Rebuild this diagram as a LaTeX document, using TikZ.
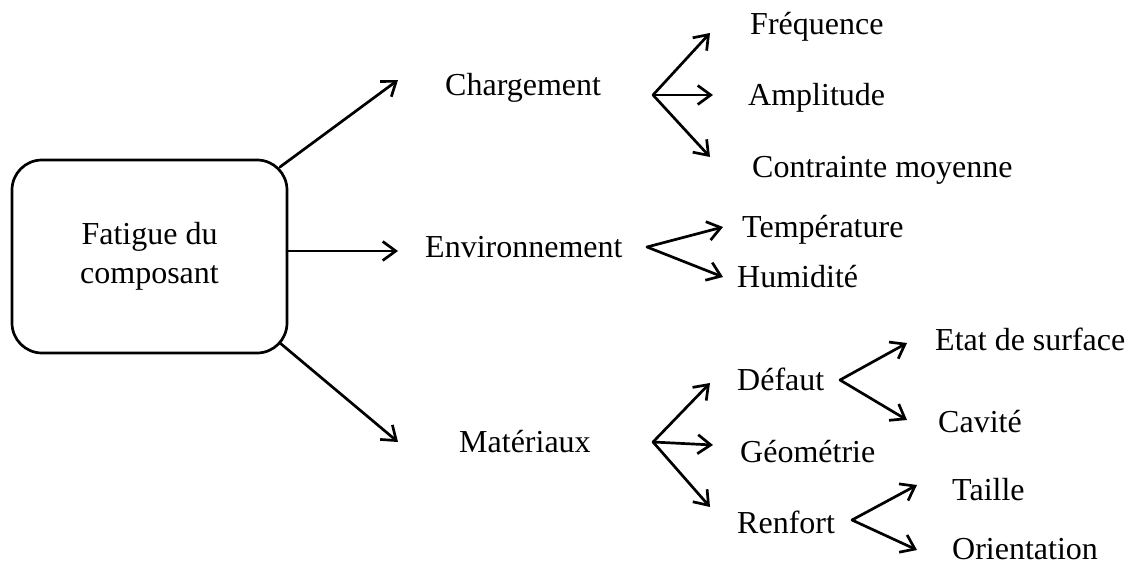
\documentclass[tikz,border=0pt]{standalone}
\usepackage{fontspec}
\setmainfont{Liberation Serif}
\usetikzlibrary{arrows.meta}
\begin{document}
\begin{tikzpicture}[x=1pt,y=-1pt,
  lbl/.style={anchor=base west,inner sep=0pt,font=\fontsize{32}{38}\selectfont},
  arr/.style={line width=2.7pt,line cap=round,-{Straight Barb[length=13pt,width=19pt,line width=2.7pt]}},
  mainbox/.style={draw,line width=2.7pt,rounded corners=30pt,minimum width=275pt,minimum height=193pt,align=center,font=\fontsize{32}{39}\selectfont,inner sep=0pt}]
\useasboundingbox (0,0) rectangle (1132,567);
\node[mainbox] (box) at (149.5,256.5) {Fatigue du\\composant};
% labels
\node[lbl] (charg) at (445,96) {Chargement};
\node[lbl] (env) at (425,257) {Environnement};
\node[lbl] (mat) at (459,452) {Matériaux};
\node[lbl] (freq) at (750,35) {Fréquence};
\node[lbl] (ampl) at (748,106) {Amplitude};
\node[lbl] (contr) at (752,177) {Contrainte moyenne};
\node[lbl] (temp) at (742,237) {Température};
\node[lbl] (hum) at (737,287) {Humidité};
\node[lbl] (def) at (737,390) {Défaut};
\node[lbl] (geo) at (740,462) {Géométrie};
\node[lbl] (renf) at (737,533) {Renfort};
\node[lbl] (etat) at (935,350) {Etat de surface};
\node[lbl] (cav) at (938,432) {Cavité};
\node[lbl] (tail) at (952,500) {Taille};
\node[lbl] (orie) at (952,559) {Orientation};
% connector points
\coordinate (b1) at (280,167);
\coordinate (b2) at (287,251);
\coordinate (b3) at (280,343);
\coordinate (e1) at (398,80);
\coordinate (e2) at (398,251);
\coordinate (e3) at (398,442);
\coordinate (fc) at (653,95);
\coordinate (fc1) at (710,33);
\coordinate (fc2) at (713,95);
\coordinate (fc3) at (710,157);
\coordinate (fe) at (647,247);
\coordinate (fe1) at (723,227);
\coordinate (fe2) at (723,277);
\coordinate (fm) at (653,442);
\coordinate (fm1) at (710,383);
\coordinate (fm2) at (713,445);
\coordinate (fm3) at (710,507);
\coordinate (fd) at (840,380);
\coordinate (fd1) at (907,343);
\coordinate (fd2) at (907,420);
\coordinate (fr) at (852,520);
\coordinate (fr1) at (917,485);
\coordinate (fr2) at (917,550);
% connectors
\draw[arr] (b1) -- (e1);
\draw[arr] (b2) -- (e2);
\draw[arr] (b3) -- (e3);
\draw[arr] (fc) -- (fc1);
\draw[arr] (fc) -- (fc2);
\draw[arr] (fc) -- (fc3);
\draw[arr] (fe) -- (fe1);
\draw[arr] (fe) -- (fe2);
\draw[arr] (fm) -- (fm1);
\draw[arr] (fm) -- (fm2);
\draw[arr] (fm) -- (fm3);
\draw[arr] (fd) -- (fd1);
\draw[arr] (fd) -- (fd2);
\draw[arr] (fr) -- (fr1);
\draw[arr] (fr) -- (fr2);
\end{tikzpicture}
\end{document}
